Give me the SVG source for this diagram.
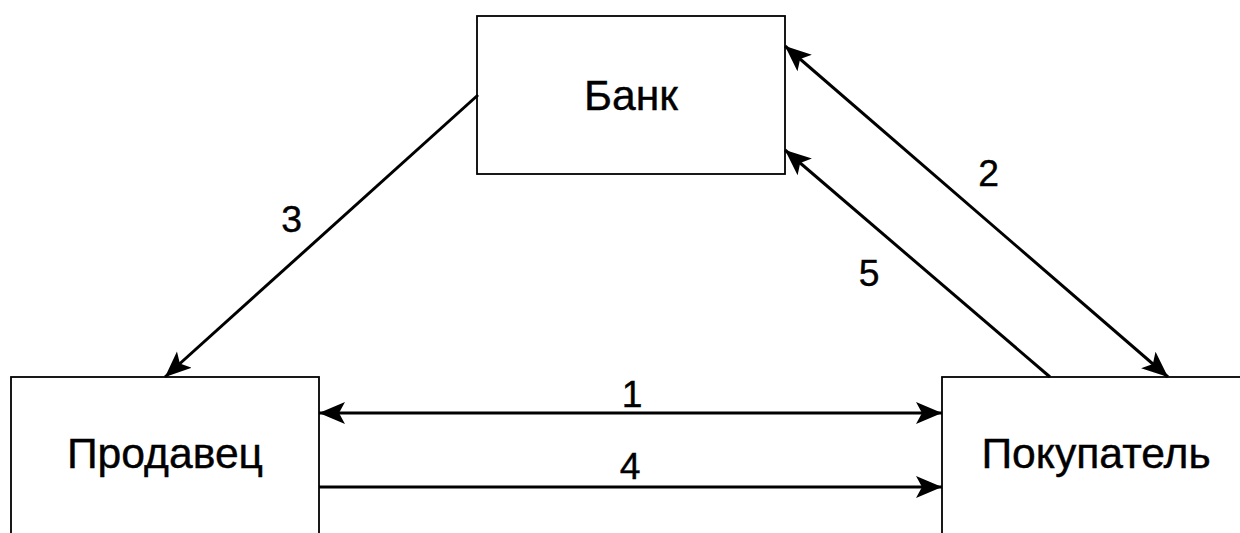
<svg xmlns="http://www.w3.org/2000/svg" width="1240" height="533" viewBox="0 0 1240 533">
<style>
.box{fill:#fff;stroke:#000;stroke-width:1.8}
.t{font-family:"Liberation Sans",Arial,sans-serif;font-size:42.67px;fill:#000;stroke:#000;stroke-width:0.4;text-anchor:middle}
.n{font-family:"Liberation Sans",Arial,sans-serif;font-size:37.3px;fill:#000;stroke:#000;stroke-width:0.4;text-anchor:middle}
.c{stroke:#000;stroke-width:3;fill:none}
</style>
<defs>
<marker id="ah" markerUnits="userSpaceOnUse" markerWidth="28" markerHeight="24" refX="26" refY="11" orient="auto-start-reverse" viewBox="0 0 28 24">
<path d="M0,0 L26,11 L0,22 L6,11 z" fill="#000"/>
</marker>
</defs>
<rect width="1240" height="533" fill="#fff"/>
<g id="bank">
<rect class="box" x="477" y="16" width="308" height="158"/>
<text class="t" x="631" y="110">Банк</text>
</g>
<g id="seller">
<rect class="box" x="11" y="377" width="308" height="200"/>
<text class="t" x="165" y="468">Продавец</text>
</g>
<g id="buyer">
<rect class="box" x="942" y="377" width="320" height="200"/>
<text class="t" x="1096" y="468">Покупатель</text>
</g>
<g id="connectors">
<line class="c" x1="319" y1="413" x2="942" y2="413" marker-start="url(#ah)" marker-end="url(#ah)"/>
<line class="c" x1="319" y1="487" x2="942" y2="487" marker-end="url(#ah)"/>
<line class="c" x1="478" y1="95" x2="165" y2="377" marker-end="url(#ah)"/>
<line class="c" x1="785" y1="46" x2="1168" y2="377" marker-start="url(#ah)" marker-end="url(#ah)"/>
<line class="c" x1="1050" y1="377" x2="785" y2="150" marker-end="url(#ah)"/>
<text class="n" x="632" y="406.7">1</text>
<text class="n" x="630" y="479.3">4</text>
<text class="n" x="291.7" y="231.7">3</text>
<text class="n" x="988.5" y="186">2</text>
<text class="n" x="869" y="285.7">5</text>
</g>
</svg>
